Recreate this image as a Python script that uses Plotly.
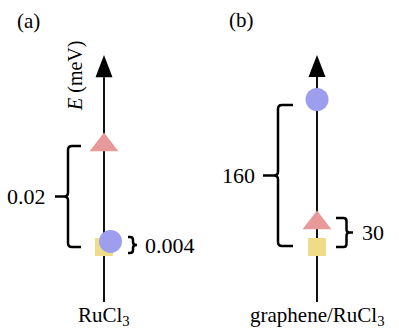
import plotly.graph_objects as go

# ---------------- data ----------------
panel_names = ["RuCl<sub>3</sub>", "graphene/RuCl<sub>3</sub>"]
panel_tags = ["(a)", "(b)"]
state_symbols = ["square", "circle", "triangle-up"]
state_colors = ["#EFDC8A", "#9E9EEE", "#E89A9A"]
state_sizes = [18, 23, 25]

# energy levels (meV) of square, circle, triangle states
rucl3_levels = [0.0, 0.0011, 0.02]
graphene_levels = [0.0, 160.0, 26.0]
# small horizontal offsets of the markers (schematic)
rucl3_offsets = [0.0, 0.065, 0.0]
graphene_offsets = [0.0, 0.0, 0.0]

# gap braces: (low, high) energy spans and labels
rucl3_gap_spans = [(0.0, 0.0198), (-0.00118, 0.00196)]
rucl3_gap_labels = ["0.02", "0.004"]
graphene_gap_spans = [(1.0, 154.0), (0.0, 31.5)]
graphene_gap_labels = ["160", "30"]

# energy axis extents (bottom, arrow base, arrow tip)
rucl3_axis = [-0.0108, 0.0333, 0.03765]
graphene_axis = [-59.7, 184.4, 208.3]

y_ranges = [[-0.016275, 0.048431], [-90.03, 267.93]]
x_ranges = [[-1.04, 0.955], [-1.175, 0.82]]

FONT = "Liberation Serif"
fig = go.Figure()

panels = [
    dict(levels=rucl3_levels, offsets=rucl3_offsets, spans=rucl3_gap_spans,
         labels=rucl3_gap_labels, axis=rucl3_axis,
         brace_x=[(-0.23, -0.36, -0.49), (0.24, 0.29, 0.33)],
         label_x=[-0.565, 0.39]),
    dict(levels=graphene_levels, offsets=graphene_offsets, spans=graphene_gap_spans,
         labels=graphene_gap_labels, axis=graphene_axis,
         brace_x=[(-0.24, -0.39, -0.54), (0.19, 0.295, 0.36)],
         label_x=[-0.60, 0.43]),
]

shapes = []
annotations = []

for i, p in enumerate(panels):
    xr = "x" if i == 0 else "x2"
    yr = "y" if i == 0 else "y2"
    yspan = y_ranges[i][1] - y_ranges[i][0]
    px_y = yspan / 330.0  # data units per pixel (vertical)
    px_x = 0.01           # data units per pixel (horizontal)

    # energy axis line
    fig.add_trace(go.Scatter(x=[0, 0], y=[p["axis"][0], p["axis"][1]], mode="lines",
                             line=dict(color="#111111", width=2),
                             xaxis=xr, yaxis=yr, hoverinfo="skip", showlegend=False))
    # arrow head
    hw = 8.5 * px_x
    shapes.append(dict(type="path", xref=xr, yref=yr,
                       path=f"M {-hw},{p['axis'][1]} L {hw},{p['axis'][1]} L 0,{p['axis'][2]} Z",
                       fillcolor="black", line=dict(width=0)))
    # states
    for s in range(3):
        fig.add_trace(go.Scatter(x=[p["offsets"][s]], y=[p["levels"][s]], mode="markers",
                                 marker=dict(symbol=state_symbols[s], color=state_colors[s],
                                             size=state_sizes[s], line=dict(width=0)),
                                 xaxis=xr, yaxis=yr, hoverinfo="skip", showlegend=False))
    # braces
    for b in range(2):
        lo, hi = p["spans"][b]
        mid = (lo + hi) / 2
        xe, xs, xt = p["brace_x"][b]
        d = 1 if xs > xe else -1
        r = 3 if b == 1 else 4
        rx = r * px_x * d
        ry = min(r * px_y, (hi - lo) / 4)
        path = (f"M {xe},{hi} L {xs - rx},{hi} Q {xs},{hi} {xs},{hi - ry} "
                f"L {xs},{mid + ry} Q {xs},{mid} {xs + rx},{mid} L {xt},{mid} "
                f"M {xs + rx},{mid} Q {xs},{mid} {xs},{mid - ry} "
                f"L {xs},{lo + ry} Q {xs},{lo} {xs - rx},{lo} L {xe},{lo}")
        shapes.append(dict(type="path", xref=xr, yref=yr, path=path,
                           line=dict(color="black", width=2.5)))
        annotations.append(dict(x=p["label_x"][b], y=mid, xref=xr, yref=yr,
                                text=p["labels"][b], showarrow=False,
                                xanchor="right" if d < 0 else "left", yanchor="middle",
                                font=dict(family=FONT, size=22, color="black")))
    # material label
    annotations.append(dict(x=0, y=1 - 316 / 330, xref=xr, yref="paper",
                            text=panel_names[i], showarrow=False,
                            xanchor="center", yanchor="middle",
                            font=dict(family=FONT, size=21, color="black")))

annotations.append(dict(x=28 / 399, y=1 - 21 / 330, xref="paper", yref="paper",
                        text=panel_tags[0], showarrow=False, xanchor="center", yanchor="middle",
                        font=dict(family=FONT, size=21, color="black")))
annotations.append(dict(x=241 / 399, y=1 - 20 / 330, xref="paper", yref="paper",
                        text=panel_tags[1], showarrow=False, xanchor="center", yanchor="middle",
                        font=dict(family=FONT, size=21, color="black")))
annotations.append(dict(x=-0.29, y=1 - 76 / 330, xref="x", yref="paper",
                        text="<i>E</i> (meV)", showarrow=False, textangle=-90,
                        xanchor="center", yanchor="middle",
                        font=dict(family=FONT, size=20, color="black")))

ax_common = dict(visible=False, showgrid=False, zeroline=False, fixedrange=True)
fig.update_layout(
    width=399, height=330,
    margin=dict(l=0, r=0, t=0, b=0),
    paper_bgcolor="white", plot_bgcolor="white",
    showlegend=False,
    font=dict(family=FONT),
    xaxis=dict(domain=[0, 0.5], range=x_ranges[0], **ax_common),
    xaxis2=dict(domain=[0.5, 1], range=x_ranges[1], **ax_common),
    yaxis=dict(domain=[0, 1], range=y_ranges[0], anchor="x", **ax_common),
    yaxis2=dict(domain=[0, 1], range=y_ranges[1], anchor="x2", **ax_common),
    shapes=shapes, annotations=annotations,
)

fig.write_html("out.html", config={"displayModeBar": False},
               post_script="document.body.style.margin='0';document.body.style.overflow='hidden';")
